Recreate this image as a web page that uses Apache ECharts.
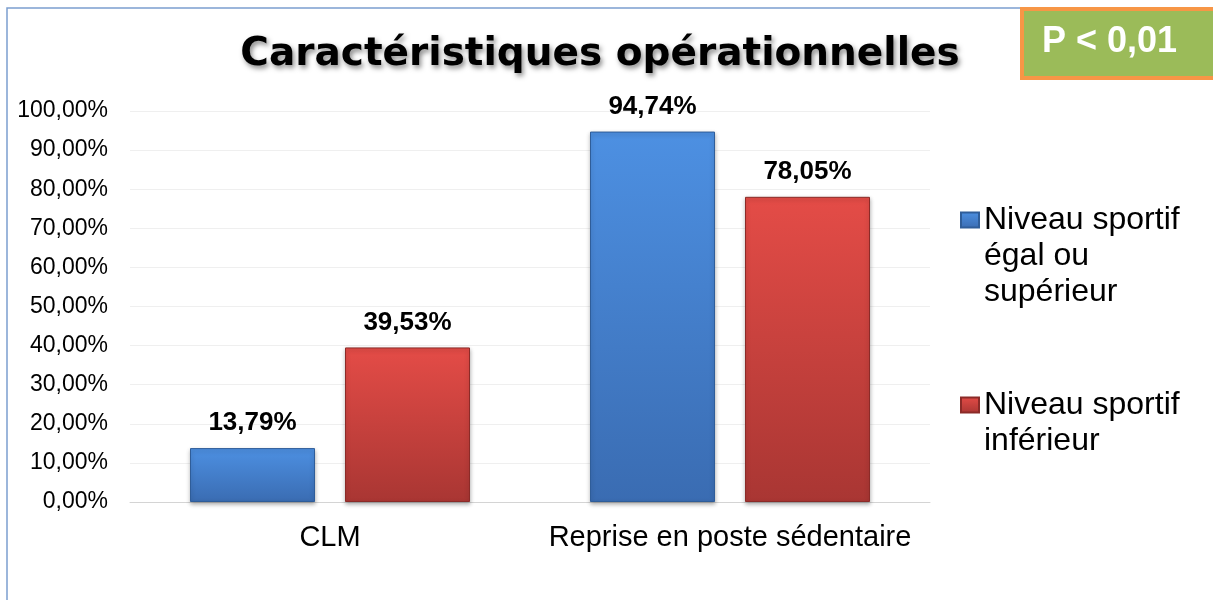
<!DOCTYPE html>
<html style="height: 100%">
<head>
    <meta charset="utf-8">
    <script src="https://cdn.jsdelivr.net/npm/echarts@6/dist/echarts.min.js"></script>
</head>
<body style="height: 100%; margin: 0; background: #fff">
    <div id="main" style="width:1213px;height:600px;"></div>
    <script type="text/javascript">
        // data
        var categories = ['CLM', 'Reprise en poste sédentaire'];
        var seriesNames = ['Niveau sportif égal ou supérieur', 'Niveau sportif inférieur'];
        var egalSup = [13.79, 94.74];
        var inferieur = [39.53, 78.05];
        var legendTexts = ['Niveau sportif\négal ou\nsupérieur', 'Niveau sportif\ninférieur'];

        function pct(v) {
            return v.toFixed(2).replace('.', ',') + '%';
        }

        function grad(top, bottom) {
            return new echarts.graphic.LinearGradient(0, 0, 0, 1, [
                { offset: 0, color: top },
                { offset: 1, color: bottom }
            ]);
        }

        var myChart = echarts.init(document.getElementById('main'));

        var labelStyle = {
            show: true,
            position: 'top',
            distance: 12,
            fontFamily: 'Liberation Sans',
            fontWeight: 'bold',
            fontSize: 26,
            color: '#000',
            formatter: function (p) { return pct(p.value); }
        };

        var legendText = { fontFamily: 'Liberation Sans', fontSize: 32, lineHeight: 36, color: '#000' };

        var option = {
            backgroundColor: '#fff',
            animation: false,
            title: {
                text: 'Caractéristiques opérationnelles',
                left: 595,
                top: 30,
                textAlign: 'center',
                textStyle: {
                    fontFamily: 'DejaVu Sans',
                    fontWeight: 'bold',
                    fontSize: 39,
                    color: '#000',
                    textShadowColor: 'rgba(0,0,0,0.45)',
                    textShadowBlur: 5,
                    textShadowOffsetX: 2,
                    textShadowOffsetY: 3
                }
            },
            graphic: [
                {
                    type: 'rect',
                    z: -10,
                    shape: { x: 7, y: 8, width: 1300, height: 700 },
                    style: { fill: 'none', stroke: '#7c9fcf', lineWidth: 1.5 }
                },
                {
                    type: 'rect',
                    z: 10,
                    shape: { x: 1022, y: 9, width: 220, height: 69 },
                    style: { fill: '#9bbb59', stroke: '#f79646', lineWidth: 4 }
                },
                {
                    type: 'text',
                    z: 11,
                    left: 1042,
                    top: 24,
                    style: {
                        text: 'P < 0,01',
                        fill: '#fff',
                        fontFamily: 'Liberation Sans',
                        fontWeight: 'bold',
                        fontSize: 36
                    }
                }
            ],
            legend: [
                {
                    data: [seriesNames[0]],
                    left: 960,
                    top: 130,
                    padding: 0,
                    itemWidth: 18,
                    itemHeight: 15,
                    icon: 'rect',
                    formatter: function () { return '\n\n' + legendTexts[0]; },
                    textStyle: legendText
                },
                {
                    data: [seriesNames[1]],
                    left: 960,
                    top: 351,
                    padding: 0,
                    itemWidth: 18,
                    itemHeight: 15,
                    icon: 'rect',
                    formatter: function () { return '\n' + legendTexts[1]; },
                    textStyle: legendText
                }
            ],
            grid: { left: 130, right: 283, top: 111, bottom: 98 },
            xAxis: {
                type: 'category',
                data: categories,
                axisTick: { show: false },
                axisLine: { lineStyle: { color: '#d4d4d4', width: 1 } },
                axisLabel: { interval: 0, fontFamily: 'Liberation Sans', fontSize: 29, color: '#000', margin: 21 }
            },
            yAxis: {
                type: 'value',
                min: 0,
                max: 100,
                interval: 10,
                axisLine: { show: false },
                axisTick: { show: false },
                splitLine: { lineStyle: { color: '#efefef' } },
                axisLabel: {
                    fontFamily: 'Liberation Sans',
                    fontSize: 23,
                    color: '#000',
                    margin: 22,
                    formatter: function (v) { return pct(v); }
                }
            },
            series: [
                {
                    name: seriesNames[0],
                    type: 'bar',
                    data: egalSup,
                    barWidth: 125,
                    barGap: '24%',
                    itemStyle: {
                        color: grad('#4d90e2', '#3a6cb2'),
                        borderColor: '#2f5d99',
                        borderWidth: 1,
                        shadowColor: 'rgba(0,0,0,0.3)',
                        shadowBlur: 4,
                        shadowOffsetY: 2
                    },
                    label: labelStyle
                },
                {
                    name: seriesNames[1],
                    type: 'bar',
                    data: inferieur,
                    barWidth: 125,
                    itemStyle: {
                        color: grad('#e44c47', '#a93633'),
                        borderColor: '#8b2b28',
                        borderWidth: 1,
                        shadowColor: 'rgba(0,0,0,0.3)',
                        shadowBlur: 4,
                        shadowOffsetY: 2
                    },
                    label: labelStyle
                }
            ]
        };

        myChart.setOption(option, true);
    </script>
</body>
</html>
